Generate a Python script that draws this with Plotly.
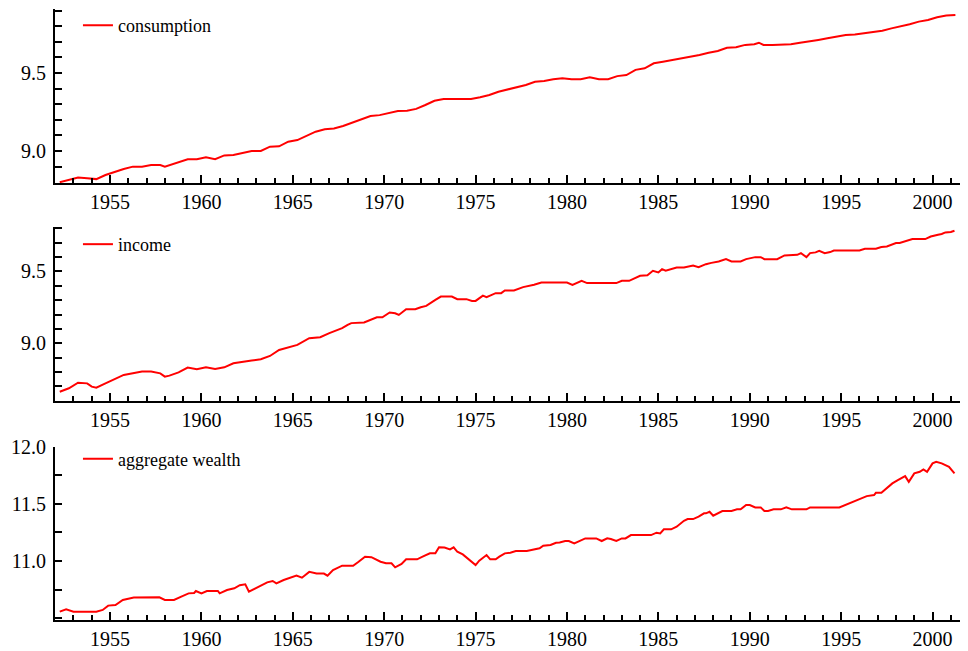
import plotly.graph_objects as go

# ---------------- data ----------------
series_names = ["consumption", "income", "aggregate wealth"]

cons_t = [1952.25, 1952.75, 1953.25, 1953.75, 1954.25, 1954.75, 1955.25, 1955.75, 1956.25, 1956.75,
          1957.25, 1957.75, 1958.0, 1958.25, 1958.75, 1959.25, 1959.75, 1960.25, 1960.75, 1961.25,
          1961.75, 1962.25, 1962.75, 1963.25, 1963.75, 1964.25, 1964.75, 1965.25, 1965.75, 1966.25,
          1966.75, 1967.25, 1967.75, 1968.25, 1968.75, 1969.25, 1969.75, 1970.25, 1970.75, 1971.25,
          1971.75, 1972.25, 1972.75, 1973.25, 1973.75, 1974.25, 1974.75, 1975.25, 1975.75, 1976.25,
          1976.75, 1977.25, 1977.75, 1978.25, 1978.75, 1979.25, 1979.75, 1980.25, 1980.75, 1981.25,
          1981.75, 1982.25, 1982.75, 1983.25, 1983.75, 1984.25, 1984.75, 1985.25, 1985.75, 1986.25,
          1986.75, 1987.25, 1987.75, 1988.25, 1988.75, 1989.25, 1989.75, 1990.25, 1990.5, 1990.75,
          1991.25, 1991.75, 1992.25, 1992.75, 1993.25, 1993.75, 1994.25, 1994.75, 1995.25, 1995.75,
          1996.25, 1996.75, 1997.25, 1997.75, 1998.25, 1998.75, 1999.25, 1999.75, 2000.25, 2000.75,
          2001.25]
cons_v = [8.800, 8.814, 8.830, 8.825, 8.820, 8.846, 8.867, 8.885, 8.900, 8.900,
          8.910, 8.910, 8.900, 8.910, 8.925, 8.947, 8.947, 8.960, 8.947, 8.972,
          8.974, 8.985, 9.000, 9.000, 9.028, 9.030, 9.060, 9.070, 9.096, 9.124,
          9.140, 9.145, 9.160, 9.180, 9.200, 9.224, 9.230, 9.242, 9.256, 9.258,
          9.270, 9.295, 9.322, 9.333, 9.333, 9.333, 9.333, 9.344, 9.359, 9.380,
          9.395, 9.408, 9.423, 9.444, 9.449, 9.460, 9.466, 9.460, 9.460, 9.472,
          9.460, 9.460, 9.480, 9.487, 9.520, 9.530, 9.562, 9.572, 9.583, 9.590,
          9.605, 9.615, 9.630, 9.641, 9.662, 9.665, 9.680, 9.684, 9.694, 9.680,
          9.680, 9.680, 9.684, 9.694, 9.705, 9.712, 9.722, 9.733, 9.744, 9.746,
          9.754, 9.760, 9.771, 9.786, 9.797, 9.812, 9.829, 9.840, 9.857, 9.868,
          9.872]

inc_t = [1952.25, 1952.75, 1953.25, 1953.75, 1954.0, 1954.25, 1954.75, 1955.25, 1955.75, 1956.25,
         1956.75, 1957.25, 1957.75, 1958.0, 1958.25, 1958.75, 1959.25, 1959.75, 1960.25, 1960.75,
         1961.25, 1961.75, 1962.25, 1962.75, 1963.25, 1963.75, 1964.25, 1964.75, 1965.25, 1965.9,
         1966.5, 1967.0, 1967.7, 1968.0, 1968.2, 1968.9, 1969.6, 1969.9, 1970.3, 1970.6,
         1970.8, 1971.2, 1971.7, 1972.0, 1972.3, 1972.8, 1973.1, 1973.7, 1974.0, 1974.5,
         1974.8, 1975.0, 1975.4, 1975.6, 1976.1, 1976.4, 1976.6, 1977.1, 1977.6, 1978.2,
         1978.6, 1980.0, 1980.3, 1980.8, 1981.1, 1982.7, 1983.0, 1983.4, 1984.0, 1984.4,
         1984.7, 1985.0, 1985.2, 1985.4, 1986.0, 1986.4, 1986.9, 1987.2, 1987.6, 1987.9,
         1988.3, 1988.7, 1989.0, 1989.5, 1989.8, 1990.3, 1990.6, 1990.8, 1991.5, 1991.9,
         1992.6, 1992.8, 1993.1, 1993.3, 1993.6, 1993.8, 1994.1, 1994.4, 1994.6, 1996.0,
         1996.3, 1996.9, 1997.2, 1997.5, 1998.0, 1998.2, 1998.5, 1998.9, 1999.6, 1999.9,
         2000.3, 2000.5, 2000.7, 2001.0, 2001.2]
inc_v = [8.662, 8.686, 8.725, 8.720, 8.697, 8.690, 8.720, 8.751, 8.779, 8.790,
         8.802, 8.802, 8.790, 8.767, 8.774, 8.797, 8.830, 8.818, 8.832, 8.820,
         8.832, 8.860, 8.872, 8.879, 8.888, 8.911, 8.953, 8.969, 8.988, 9.035,
         9.042, 9.070, 9.105, 9.128, 9.140, 9.144, 9.181, 9.181, 9.214, 9.209,
         9.197, 9.237, 9.237, 9.251, 9.260, 9.302, 9.325, 9.325, 9.307, 9.307,
         9.295, 9.295, 9.332, 9.321, 9.349, 9.349, 9.367, 9.367, 9.391, 9.407,
         9.423, 9.423, 9.407, 9.435, 9.419, 9.419, 9.435, 9.435, 9.470, 9.474,
         9.505, 9.493, 9.516, 9.505, 9.528, 9.528, 9.542, 9.530, 9.551, 9.560,
         9.570, 9.586, 9.570, 9.570, 9.586, 9.600, 9.600, 9.586, 9.586, 9.612,
         9.616, 9.628, 9.600, 9.628, 9.633, 9.644, 9.628, 9.635, 9.646, 9.646,
         9.658, 9.658, 9.670, 9.674, 9.698, 9.698, 9.709, 9.726, 9.726, 9.744,
         9.756, 9.761, 9.772, 9.775, 9.784]

wlth_t = [1952.25, 1952.6, 1953.0, 1954.25, 1954.6, 1954.9, 1955.3, 1955.7, 1956.3, 1956.7,
          1957.7, 1958.0, 1958.5, 1958.9, 1959.3, 1959.6, 1959.7, 1960.0, 1960.3, 1960.9,
          1961.0, 1961.4, 1961.8, 1962.1, 1962.4, 1962.6, 1963.1, 1963.6, 1963.9, 1964.1,
          1964.5, 1964.9, 1965.2, 1965.5, 1965.9, 1966.3, 1966.7, 1966.9, 1967.2, 1967.7,
          1968.3, 1968.6, 1968.95, 1969.3, 1969.8, 1970.1, 1970.4, 1970.6, 1970.95, 1971.2,
          1971.8, 1972.1, 1972.5, 1972.8, 1973.0, 1973.3, 1973.6, 1973.8, 1974.0, 1974.3,
          1974.6, 1975.0, 1975.2, 1975.6, 1975.8, 1976.1, 1976.3, 1976.6, 1976.9, 1977.2,
          1977.8, 1978.2, 1978.5, 1978.7, 1979.1, 1979.4, 1979.6, 1979.9, 1980.1, 1980.4,
          1980.8, 1981.0, 1981.6, 1981.9, 1982.2, 1982.4, 1982.7, 1983.0, 1983.2, 1983.5,
          1984.6, 1984.9, 1985.1, 1985.3, 1985.7, 1986.0, 1986.4, 1986.6, 1986.9, 1987.2,
          1987.5, 1987.6, 1987.8, 1988.0, 1988.5, 1989.0, 1989.3, 1989.5, 1989.8, 1990.0,
          1990.3, 1990.6, 1990.8, 1991.0, 1991.3, 1991.7, 1992.0, 1992.3, 1993.1, 1993.3,
          1994.9, 1995.3, 1995.7, 1996.1, 1996.4, 1996.8, 1996.9, 1997.2, 1997.5, 1997.8,
          1998.1, 1998.5, 1998.7, 1999.0, 1999.3, 1999.5, 1999.7, 2000.0, 2000.2, 2000.5,
          2000.9, 2001.2]
wlth_v = [10.557, 10.578, 10.557, 10.557, 10.572, 10.610, 10.615, 10.659, 10.680, 10.682,
          10.682, 10.659, 10.659, 10.688, 10.717, 10.720, 10.738, 10.717, 10.738, 10.738,
          10.717, 10.746, 10.761, 10.788, 10.796, 10.732, 10.776, 10.813, 10.825, 10.805,
          10.834, 10.854, 10.872, 10.854, 10.905, 10.890, 10.890, 10.872, 10.921, 10.959,
          10.959, 10.994, 11.038, 11.034, 10.994, 10.980, 10.980, 10.945, 10.974, 11.015,
          11.015, 11.038, 11.067, 11.067, 11.120, 11.118, 11.102, 11.120, 11.081, 11.058,
          11.015, 10.965, 11.003, 11.052, 11.015, 11.015, 11.038, 11.067, 11.073, 11.087,
          11.087, 11.102, 11.111, 11.134, 11.140, 11.160, 11.162, 11.175, 11.175, 11.154,
          11.184, 11.198, 11.198, 11.175, 11.198, 11.192, 11.175, 11.198, 11.198, 11.227,
          11.227, 11.248, 11.242, 11.277, 11.277, 11.300, 11.352, 11.367, 11.367, 11.388,
          11.417, 11.417, 11.431, 11.396, 11.437, 11.437, 11.452, 11.452, 11.490, 11.490,
          11.469, 11.469, 11.437, 11.437, 11.452, 11.452, 11.469, 11.452, 11.452, 11.469,
          11.469, 11.495, 11.519, 11.548, 11.568, 11.577, 11.597, 11.597, 11.635, 11.679,
          11.708, 11.743, 11.693, 11.767, 11.781, 11.802, 11.781, 11.854, 11.868, 11.854,
          11.824, 11.767]

x_major_ticks = [1955, 1960, 1965, 1970, 1975, 1980, 1985, 1990, 1995, 2000]
y_ticks_cons = [9.0, 9.5]
y_ticks_inc = [9.0, 9.5]
y_ticks_wlth = [11.0, 11.5, 12.0]

# ---------------- figure ----------------
RED = "#ff0000"
FONT = "Liberation Serif"

fig = go.Figure()
data_sets = [(cons_t, cons_v), (inc_t, inc_v), (wlth_t, wlth_v)]
for i, (t, v) in enumerate(data_sets):
    sfx = "" if i == 0 else str(i + 1)
    fig.add_trace(go.Scatter(
        x=t, y=v, mode="lines", name=series_names[i],
        line=dict(color=RED, width=2),
        xaxis="x" + sfx, yaxis="y" + sfx,
        legend="legend" + sfx, showlegend=True,
    ))

x_range = [1951.99, 2001.83]
domains = [[0.7152, 1.0], [0.3584, 0.6432], [0.0, 0.2836]]
y_ranges = [[8.795, 9.91], [8.597, 9.81], [10.484, 12.0]]
y_ticks = [y_ticks_cons, y_ticks_inc, y_ticks_wlth]
y_minor = [0.1, 0.1, 0.25]
legend_tops = [1.003, 0.6449, 0.2935]

tickfont = dict(family=FONT, size=20, color="black")
layout = dict(
    width=960, height=643,
    margin=dict(l=47, r=2, t=1, b=31, autoexpand=False),
    paper_bgcolor="white", plot_bgcolor="white",
    font=dict(family=FONT, color="black"),
    showlegend=True,
)
for i in range(3):
    sfx = "" if i == 0 else str(i + 1)
    layout["xaxis" + sfx] = dict(
        domain=[0, 1], anchor="y" + sfx, range=x_range,
        tickmode="array", tickvals=x_major_ticks,
        ticktext=[str(y) for y in x_major_ticks],
        ticks="inside", ticklen=8, tickwidth=1.5, tickcolor="black",
        minor=dict(dtick=1, tick0=1955, ticks="inside", ticklen=5, tickwidth=1.5, tickcolor="black"),
        showline=True, linecolor="black", linewidth=2,
        showgrid=False, zeroline=False, tickfont=tickfont, ticklabelstandoff=0,
    )
    layout["yaxis" + sfx] = dict(
        domain=domains[i], anchor="x" + sfx, range=y_ranges[i],
        tickmode="array", tickvals=y_ticks[i],
        ticktext=["%.1f" % v for v in y_ticks[i]],
        ticks="inside", ticklen=7, tickwidth=1.5, tickcolor="black",
        minor=dict(dtick=y_minor[i], tick0=9.0, ticks="inside", ticklen=7, tickwidth=1.5, tickcolor="black"),
        showline=True, linecolor="black", linewidth=2,
        showgrid=False, zeroline=False, tickfont=tickfont, ticklabelstandoff=3,
    )
    layout["legend" + sfx] = dict(
        x=0.0252, y=legend_tops[i], xanchor="left", yanchor="top",
        bgcolor="rgba(0,0,0,0)", borderwidth=0,
        font=dict(family=FONT, size=18, color="black"),
    )
fig.update_layout(**layout)
fig.write_html("out.html")
